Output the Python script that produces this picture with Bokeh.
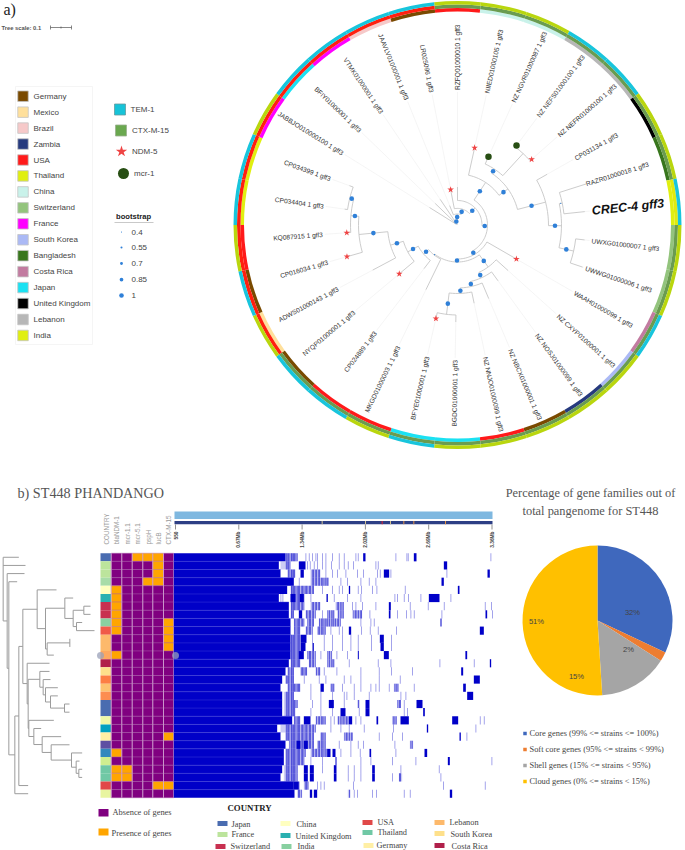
import math
from bokeh.plotting import figure
from bokeh.models import Range1d
from bokeh.core.properties import value
from bokeh.embed import file_html
from bokeh.resources import INLINE

# ---------- panel a: circular tree data ----------
leaf_names = ["RZFQ01000010 1 gff3","NIIED01000105 1 gff3","NZ NGVR01000087 1 gff3","NZ NEFS01000100 1 gff3",
 "NZ NEFR01000100 1 gff3","CP031134 1 gff3","RAZR01000018 1 gff3","CREC-4 gff3","UWXG01000007 1 gff3",
 "UWWG01000006 1 gff3","WAAH01000099 1 gff3","NZ CXYP01000001 1 gff3","NZ NOSJ01000099 1 gff3",
 "NZ NBCX01000001 1 gff3","NZ NNJO01000099 1 gff3","BGDC01000001 1 gff3","BFYE01000001 1 gff3",
 "MKGD01000003 1 1 gff3","CP024889 1 gff3","NYQP01000001 1 gff3","ADWS01000143 1 gff3","CP016034 1 gff3",
 "KQ087915 1 gff3","CP034404 1 gff3","CP034399 1 gff3","JABBJO010000100 1 gff3","BFIY01000001 1 gff3",
 "VTMK01000001 1 gff3","JAAVLV01000001 1 gff3","LR025096 1 gff3"]
leaf_theta = [0,12.5,24.4,36.6,48.5,60.5,72.3,84,96.7,108.6,120,132,144,157,168,181,193,206,217.5,230,242,254,266,278,290,302,314,326,338,349]
leaf_parent = ["V","N1","N3","N4","N4","N5","N7","N7","N8","N8","U","N12","N13","N14","N15","N16","N16","L1","M1","M2","M3","M4","M5","M6","M6","Z3","Z2","Z","Y","W"]
leaf_radius = [38,79,75,99,99,103,135,128,128,132,68,68,69,80,80,97,96,72,55,76,96,115,111,114,115,33,31,31,21,36]
leaf_mark = ["","star","mcr","mcr","star","","","","","","star","","","","","","star","","","star","","star","star","","","","","","","star"]

node_names = ["Z3","Z2","Z","Y","W","V","T","N1","N2","N3","N4","N5","N6","N7","N8","U","Q","N12","N13","N14","N15","N16","L1","M1","M2","M3","M4","M5","M6"]
node_parent = [None,"Z3","Z2","Z","Y","W","V","T","N1","N2","N3","N2","N5","N6","N6","T","U","Q","N12","N13","N14","N15","Q","L1","M1","M2","M3","M4","M5"]
node_radius = [1.5,2.5,5,11,16.6,24.5,30,51,62,67,97,91,104,107,119,34,37,52,58,63,68.5,90,38,44.6,56.5,70,99,107,111]
node_boot = [0,0,1,1,1,1,1,1,1,1,0,1,1,0.4,1,1,1,1,1,1,1,1,0.4,1,1,1,1,1,1]

ring_country = ["USA","China","China","Lebanon","Lebanon","United Kingdom","Bangladesh","India","Switzerland","Switzerland",
 "Costa Rica","South Korea","Zambia","Germany","USA","Japan","Japan","USA","USA","Germany","Mexico","Germany","USA",
 "Thailand","Thailand","France","Japan","France","Brazil","Germany"]
ring_middle = ["g"]*7+["l"]+["g"]*12+["r"]*10
ring_outer = ["l","l","l","c","c","l","l","c","l","l","c","l","l","l","l","l","c","l","c","c","l","c","l","c","c","l","c","c","c","c"]

country_names = ["Germany","Mexico","Brazil","Zambia","USA","Thailand","China","Switzerland","France","South Korea",
 "Bangladesh","Costa Rica","Japan","United Kingdom","Lebanon","India"]
country_colors = ["#7a4a00","#ffe09c","#f6c9c9","#263a7e","#ff1a1a","#e0ef10","#c9f2ea","#93c47d","#ff00ff","#abb9f5",
 "#38761d","#c27ba0","#1be1f2","#000000","#b7b7b7","#e0ef10"]
boot_values = [0.4,0.55,0.7,0.85,1]
boot_labels = ["0.4","0.55","0.7","0.85","1"]

# ---------- panel b: phandango data ----------
gene_columns = ["COUNTRY","blaNDM-1","mcr-1.1","mcr-5.1","pspH","lucB","CTX-M-15"]
row_colors = ["#4a6cb0","#bce49c","#bce49c","#a8dca8","#ffffc0","#2ab0b0","#c83050","#c83050","#88d0a0","#f05a48",
 "#fdb96b","#fdb96b","#fda860","#b0204a","#fee08b","#fd7e44","#fdc270","#fd8d50","#4a6cb0","#4a6cb0",
 "#eef7a8","#00a0c0","#ffefa5","#5e4fa2","#3288bd","#d0ee90","#70c8a5","#70c8a5","#e04848","#e8f5a0"]
present_blaNDM = [5,6,7,8,9,10,13,25,27,28]
present_mcr11 = [27,28]
present_mcr51 = [1]
present_pspH = [1,4]
present_lucB = [1,2,3,4,29]
present_ctx = [9,10,11,12,23,29]

gene_solid = [45,25,30,70,50,25,55,55,60,60,60,60,60,55,45,35,30,35,35,35,65,20,30,45,40,40,35,30,70,72]
gene_dense = [[(45,80)],[(30,60)],[(50,75),(120,150)],[(120,175)],[(60,130)],[(60,100)],[(60,100),(120,150),(195,220)],
 [(60,70),(105,135),(170,190),(200,220),(245,275)],[(70,100),(110,130),(145,210)],[(70,90),(105,125),(140,165)],
 [(60,88)],[(60,88)],[(60,85),(110,135),(170,185)],[(60,90),(115,135),(170,190)],[(50,70),(90,110),(135,150)],
 [(45,70)],[(50,90),(180,190),(370,385)],[(40,70)],[(40,80),(260,268),(380,390)],[(40,75)],
 [(70,90),(135,165),(200,235),(365,378)],[(30,135)],[(45,130),(150,165),(220,245)],[(55,130),(140,165),(418,428)],
 [(45,105),(120,170)],[(45,100)],[(40,80)],[(40,80),(385,395)],[(100,115)],[(80,95),(232,240)]]
dense_stripe_bins = [46,49,53,57,62,64,68,71,75,79,83,86,91,95,99,103,107,111,116,119,124,128,133,137,142,146,151,154,159,
 163,168,171,176,181,186,189,194,199,203,208,213,217,222,227,231,236,241,244,249,254,258,263,268,272,
 367,372,376,381,386,389,420,424]
gene_dark = [[(278,285),(430,438)],[(85,105),(520,530)],[(90,100),(340,356),(651,658)],[(513,520)],[(235,239),(562,567)],
 [(60,75),(88,100),(168,172),(475,507)],[(355,361)],[(85,95),(355,360),(645,650)],[(510,513)],[(235,242),(628,640)],
 [(90,108),(328,340)],[(90,105),(126,130),(330,340)],[(85,100),(262,265),(340,355),(585,590)],[(658,662)],[(572,578)],
 [(610,628)],[(150,160),(578,586)],[(590,608)],[(175,190),(285,297),(438,456)],[(210,225),(285,297),(458,463)],
 [(100,120),(235,245),(318,323),(390,415),(545,563)],[(469,473)],[(567,571)],[(78,90),(100,112)],[(170,180),(186,195),(297,302),(462,470)],
 [(195,198),(532,538)],[(100,112),(118,130),(190,198),(305,313)],[(100,112),(118,130),(190,198),(305,313)],[(70,85)],[(118,125),(130,140),(538,545)]]
gene_light = [[105,115,125,135,140,155,165,185,205,220,255,262,375,408,412,660],
 [110,118,130,140,155,165,182,205,220,232,248,315,322],
 [165,185,200,225,260,278,320,328,360,528],
 [85,210,230,270,295,315],
 [155,185,205,215,262,272,305,318,403],
 [30,36,120,190,230,270,372,380,400,413,450,540],
 [245,255,275,315,418,472,520,643,662],
 [155,297,380,407,420,430,513,665],
 [270,300,310],
 [180,205,215,272,298,322,377],
 [125,160,185,215,240,262,302,362],
 [160,185,215,240,262,302,362],
 [150,198,230,585],
 [235,322,360,507,610],
 [160,198,270,325,362,425],
 [100,145,165,220,240,270,325,388],
 [120,215,250,270,300,315,325,355,430],
 [120,150,185,220,228,250,295,390,405],
 [125,150,220,400],
 [120,150,185,265,400,410],
 [180,190,255,270,628,640],
 [180,210,235,280,368,615],
 [325,365,395,588],
 [205,240,262,278,372],
 [210,240,268,375],
 [120,155,270,300,365,435,663],
 [155,232,250,270,390,505],
 [232,250,270,365,510],
 [85,140,150,160,248,518,643],
 [250,260,305,317,400,418]]

axis_ticks = [0,190,380,570,760,950]  # pan-genome bins
axis_labels = ["550","0.67Mb","1.34Mb","2.02Mb","2.69Mb","3.36Mb"]
speck_bins = [335,285,155,360,400,430,525]
speck_cols = ["#e02030","#d0c090","#d0c090","#d0c090","#e09040","#e09040","#e09040"]

dend_nodes = ["root","A","B","C","D","E","F","G","H","I","J","K","L","N11","M","M2","O","P","Q","R","S","T","U","V","W","X","Y","Z"]
dend_parent = [None,"root","A","B","C","D","E","F","G","H","I","I","G","L","E","M","M2","O","P","Q","R","M2","T","U","V","W","X","Y"]
dend_x = [8,20,25,43,55,67,110,135,193,218,250,228,140,208,80,83,118,128,135,150,192,85,100,125,152,213,227,235]
tip_parent = ["root","root","A","B","F","H","J","J","K","K","N11","N11","L","M","O","P","Q","R","S","S","T","U","V","W","X","Y","Z","Z","D","C"]
tip_x = [55,75,72,50,168,218,270,270,245,282,208,208,160,147,147,150,172,172,207,207,160,122,182,207,245,237,245,245,83,83]

pie_values = [32,2,15,51]
pie_labels = ["32%","2%","15%","51%"]
pie_colors = ["#3f68bd","#ed7d31","#a5a5a5","#ffc000"]
pie_legend = ["Core genes (99% <= strains <= 100%)","Soft core genes (95% <= strains < 99%)",
 "Shell genes (15% <= strains < 95%)","Cloud genes (0% <= strains < 15%)"]

b_country = ["Japan","France","Switzerland","China","United Kingdom","India","USA","Thailand","Germany","Lebanon","South Korea","Costa Rica"]
b_colors = ["#4a6cb0","#bce49c","#c83050","#ffffc0","#2ab0b0","#88d0a0","#e04848","#70c8a5","#ffefa5","#fdb96b","#fee08b","#b0204a"]

# ---------- figure ----------
W, H = 685, 850
p = figure(width=W, height=H, x_range=Range1d(0, W), y_range=Range1d(0, H), output_backend="svg",
           toolbar_location=None, x_axis_type=None, y_axis_type=None, min_border=0)
p.grid.visible = False
p.outline_line_color = None

def Y(y):
    return H - y

def txt(x, y, s, size=8, font="Liberation Sans", color="#444444", align="left", angle=0, style="normal", base="middle"):
    p.text([x], [Y(y)], text=[s], text_font=value(font), text_font_size=f"{size}px", text_color=color,
           text_align=align, text_baseline=base, angle=[angle], angle_units="deg", text_font_style=style)

SERIF = "Liberation Serif"
# ----- ring -----
CX, CY, R = 457, 224.5, 224
cmap = dict(zip(country_names, country_colors))
mid_c = {"g": "#6a9c50", "r": "#ff2010", "l": "#dfea0e"}
out_c = {"l": "#b9d60e", "c": "#18c5dc"}
starts = [90 - 12 * i - 6 for i in range(30)]
ends = [90 - 12 * i + 6 for i in range(30)]
for rin, rout, cols in [(R - 10.5, R - 7, [cmap[c] for c in ring_country]),
                        (R - 7, R - 3.5, [mid_c[m] for m in ring_middle]),
                        (R - 3.5, R, [out_c[o] for o in ring_outer])]:
    p.annular_wedge([CX] * 30, [Y(CY)] * 30, rin, rout, starts, ends, start_angle_units="deg", end_angle_units="deg",
                    fill_color=cols, line_color=None)

def pol(theta, r):
    a = math.radians(theta)
    return CX + r * math.sin(a), Y(CY - r * math.cos(a))

# tree geometry from the parent lists
children = {n: [] for n in node_names}
for n, par in zip(node_names, node_parent):
    if par:
        children[par].append(("n", n))
for i, par in enumerate(leaf_parent):
    children[par].append(("l", i))
tree_t = [t - 360 if t > 295 else t for t in leaf_theta]
nrad = dict(zip(node_names, node_radius))
nth = {}
def theta_of(n):
    ts = []
    for kind, c in children[n]:
        ts.append(tree_t[c] if kind == "l" else theta_of(c))
    nth[n] = (min(ts) + max(ts)) / 2
    nth[n + "_span"] = (min(ts), max(ts))
    return nth[n]
theta_of("Z3")

xs, ys, fx, fy = [], [], [], []
for n, par in zip(node_names, node_parent):
    lo, hi = nth[n + "_span"]
    steps = max(2, int((hi - lo) / 3) + 2)
    pts = [pol(lo + (hi - lo) * k / (steps - 1), nrad[n]) for k in range(steps)]
    xs.append([q[0] for q in pts]); ys.append([q[1] for q in pts])
    r0 = nrad[par] if par else 0
    a, b = pol(nth[n], r0), pol(nth[n], nrad[n])
    xs.append([a[0], b[0]]); ys.append([a[1], b[1]])
for i, par in enumerate(leaf_parent):
    a, b = pol(tree_t[i], nrad[par]), pol(tree_t[i], leaf_radius[i])
    xs.append([a[0], b[0]]); ys.append([a[1], b[1]])
    c = pol(tree_t[i], 133)
    fx.append([b[0], c[0]]); fy.append([b[1], c[1]])
p.multi_line(fx, fy, line_color="#f0f0f0", line_width=0.7)
p.multi_line(xs, ys, line_color="#c6c6c6", line_width=0.9)

dx, dy, ds = [], [], []
for n, par, b in zip(node_names, node_parent, node_boot):
    if b > 0 and par:
        q = pol(nth[n], (nrad[par] + nrad[n]) / 2)
        dx.append(q[0]); dy.append(q[1]); ds.append((b - 0.4) / 0.6 * 3.4 + 1.2)
p.scatter(dx, dy, size=ds, marker="circle", fill_color="#2f80d8", line_color=None)
sx = [pol(tree_t[i], leaf_radius[i]) for i, m in enumerate(leaf_mark) if m == "star"]
p.scatter([q[0] for q in sx], [q[1] for q in sx], size=7, marker="star", fill_color="#ef4444", line_color=None)
gx = [pol(tree_t[i], leaf_radius[i]) for i, m in enumerate(leaf_mark) if m == "mcr"]
p.scatter([q[0] for q in gx], [q[1] for q in gx], size=6.5, marker="circle", fill_color="#274e13", line_color=None)

for i, name in enumerate(leaf_names):
    t = leaf_theta[i]
    x, y = pol(t, 135)
    right = t < 180
    ang = 90 - t if right else 270 - t
    if name.startswith("CREC"):
        p.text([x], [y], text=[name], text_font=value("Liberation Sans"), text_font_size="12.5px", text_color="#111111",
               text_font_style="bold italic", text_align="left", text_baseline="middle", angle=[ang], angle_units="deg")
    else:
        p.text([x], [y], text=[name], text_font=value("Liberation Sans"), text_font_size="6.6px", text_color="#333333",
               text_align="left" if right else "right", text_baseline="middle", angle=[ang], angle_units="deg")

# ----- panel a headers and legends -----
txt(3, 9, "a)", 16, SERIF, "#222222")
txt(1, 27, "Tree scale: 0.1", 5.8, color="#555555", style="bold")
p.multi_line([[50, 71], [50, 50], [60.5, 60.5], [71, 71]],
             [[Y(27), Y(27)], [Y(25), Y(29)], [Y(26), Y(28)], [Y(25), Y(29)]], line_color="#555555", line_width=0.7)
p.quad(left=[15], right=[92], top=[Y(86)], bottom=[Y(344)], fill_color=None, line_color="#f5f5f5")
ly = [95.7 + 15.95 * i for i in range(16)]
p.rect([22.5] * 16, [Y(v) for v in ly], 10.5, 10.5, fill_color=country_colors, line_color="#c4c4c4", line_width=0.8)
for v, n in zip(ly, country_names):
    txt(33, v, n, 8, color="#444444")
p.rect([119.5], [Y(109)], 11, 11, fill_color="#17c3d8", line_color="#669aa0", line_width=0.8)
txt(130, 109, "TEM-1", 8)
p.rect([120.5], [Y(130)], 11, 11, fill_color="#6aa84f", line_color="#9bb090", line_width=0.8)
txt(131.5, 130, "CTX-M-15", 8)
p.scatter([121], [Y(151)], size=12, marker="star", fill_color="#ef4444", line_color=None)
txt(131.5, 151, "NDM-5", 8)
p.scatter([123], [Y(173)], size=11, marker="circle", fill_color="#274e13", line_color=None)
txt(133.5, 173, "mcr-1", 8)
txt(115.5, 215.5, "bootstrap", 7.6, color="#222222", style="bold")
p.line([114, 153], [Y(222), Y(222)], line_color="#bbbbbb", line_width=0.8)
by = [231.5, 247, 263, 279, 295]
p.scatter([121] * 5, [Y(v) for v in by], size=[(b - 0.4) / 0.6 * 3.4 + 1.2 for b in boot_values], marker="circle",
          fill_color="#2f80d8", line_color=None)
for v, n in zip(by, boot_labels):
    txt(131, v, n, 8)

# ----- panel b -----
txt(17, 492, "b) ST448 PHANDANGO", 14.2, SERIF, "#555555")
TOP, RH = 552.7, 8.153
NR = 30
col_edges = [100, 110.7, 121.3, 131.7, 142.3, 152.3, 163, 173.3]
rt = [TOP + RH * k for k in range(NR)]
for i, g in enumerate(gene_columns):
    txt((col_edges[i] + col_edges[i + 1]) / 2 + 0.3, 544, g, 6.3, color="#9a9a9a", angle=90, base="middle")

p.quad(left=[100] * NR, right=[110.7] * NR, top=[Y(t) for t in rt], bottom=[Y(t + RH) for t in rt],
       fill_color=row_colors, line_color=None)
present = [present_blaNDM, present_mcr11, present_mcr51, present_pspH, present_lucB, present_ctx]
ql, qr, qt, qb, qc = [], [], [], [], []
for c, rows in enumerate(present):
    for k in range(NR):
        ql.append(col_edges[c + 1]); qr.append(col_edges[c + 2]); qt.append(Y(rt[k])); qb.append(Y(rt[k] + RH))
        qc.append("#ffa500" if (k + 1) in rows else "#800080")
p.quad(left=ql, right=qr, top=qt, bottom=qb, fill_color=qc, line_color="#a95fa9", line_width=0.4)
p.segment(col_edges[1:], [Y(TOP)] * 7, col_edges[1:], [Y(TOP + RH * NR)] * 7, line_color="#dcb6dc", line_width=0.7)

def bx(b):
    return 270 + b / 3
BLUE = "#0000c8"
sol_right = [bx(s) for s in gene_solid]
p.quad(left=[173.3] * NR, right=sol_right, top=[Y(t) for t in rt], bottom=[Y(t + RH) for t in rt], fill_color=BLUE, line_color=None)
def stripes(rowlists, alpha):
    l, r, t, b = [], [], [], []
    for k, items in enumerate(rowlists):
        for it in items:
            s, e = (it, it + 2.4) if not isinstance(it, tuple) else it
            l.append(bx(s)); r.append(bx(e)); t.append(Y(rt[k])); b.append(Y(rt[k] + RH))
    p.quad(left=l, right=r, top=t, bottom=b, fill_color=BLUE, fill_alpha=alpha, line_color=None)
stripes(gene_dense, 0.2)
stripes([[b for b in dense_stripe_bins if any(s <= b < e for s, e in row)] for row in gene_dense], 0.7)
stripes(gene_light, 0.45)
stripes(gene_dark, 1)
p.segment([173.3] * (NR - 1), [Y(t) for t in rt[1:]], sol_right[1:], [Y(t) for t in rt[1:]], line_color="#3a3ad8", line_width=0.5)
p.scatter([100, 175], [Y(655)] * 2, size=7, marker="circle", fill_color="#9aa0b8", fill_alpha=0.75, line_color=None)

# top bars and axis
p.quad(left=[174], right=[492], top=[Y(511)], bottom=[Y(518.5)], fill_color="#7fb8e0", line_color=None)
p.quad(left=[174], right=[492], top=[Y(520.5)], bottom=[Y(523.8)], fill_color="#2d3f85", line_color=None)
p.segment([bx(b) for b in speck_bins], [Y(520.5)] * 7, [bx(b) for b in speck_bins], [Y(523.8)] * 7, line_color=speck_cols, line_width=1)
tick_px = [175 + 63.3 * (t / 190) for t in axis_ticks]
p.segment(tick_px, [Y(524)] * 6, tick_px, [Y(529)] * 6, line_color="#444444", line_width=0.6)
for x, s in zip(tick_px, axis_labels):
    txt(x, 531, s, 4.8, color="#444444", angle=90, align="right", style="bold")

# dendrogram
dkids = {n: [] for n in dend_nodes}
for n, par in zip(dend_nodes, dend_parent):
    if par:
        dkids[par].append(("n", n))
for k, par in enumerate(tip_parent):
    dkids[par].append(("l", k))
dxv = dict(zip(dend_nodes, dend_x))
def row_y(k):
    return rt[k] + RH / 2
seg = []
def dend(n):
    yy = []
    for kind, c in dkids[n]:
        if kind == "l":
            y = row_y(c); seg.append(([dxv[n] / 3, tip_x[c] / 3], [Y(y), Y(y)]))
        else:
            y = dend(c); seg.append(([dxv[n] / 3, dxv[c] / 3], [Y(y), Y(y)]))
        yy.append(y)
    seg.append(([dxv[n] / 3, dxv[n] / 3], [Y(min(yy)), Y(max(yy))]))
    return (min(yy) + max(yy)) / 2
dend("root")
p.multi_line([s[0] for s in seg], [s[1] for s in seg], line_color="#9c9c9c", line_width=1)

# legends below matrix
p.quad(left=[98], right=[108], top=[Y(808.5)], bottom=[Y(816)], fill_color="#800080", line_color=None)
txt(112, 812, "Absence of genes", 8.4, SERIF, "#444444")
p.quad(left=[98], right=[108], top=[Y(828)], bottom=[Y(835)], fill_color="#ffa500", line_color=None)
txt(111, 833, "Presence of genes", 8.4, SERIF, "#444444")
txt(227, 807.5, "COUNTRY", 8.8, SERIF, "#222222", style="bold")
leg_sx = [217, 217, 215, 280, 280, 281, 362, 362, 363, 434, 434, 434]
leg_sy = [823, 834, 846, 823, 835, 846, 822, 832, 845, 822, 833, 845]
leg_tx = [231, 231, 230, 296, 295, 297, 377, 377, 376, 449, 450, 451]
leg_ty = [823.5, 834, 845.5, 824, 835.5, 845.5, 822, 832, 845, 822, 834, 845.5]
p.rect([x + 5 for x in leg_sx], [Y(v) for v in leg_sy], 10, 5, fill_color=b_colors, line_color=None)
for x, v, n in zip(leg_tx, leg_ty, b_country):
    txt(x, v, n, 8.3, SERIF, "#444444")

# ----- pie -----
txt(590, 492, "Percentage of gene families out of", 12.4, SERIF, "#555555", align="center")
txt(590, 510, "total pangenome for ST448", 12.4, SERIF, "#555555", align="center")
PX, PY, PR = 597, 620, 75
tot = sum(pie_values)
acc = 0
for v, c in zip(pie_values, pie_colors):
    a0 = 90 - acc / tot * 360
    a1 = 90 - (acc + v) / tot * 360
    p.wedge([PX], [Y(PY)], PR, a1, a0, start_angle_units="deg", end_angle_units="deg", fill_color=c, line_color=None)
    acc += v
for x, y, s in zip([632, 628, 576, 536], [612, 649, 676, 621], pie_labels):
    txt(x, y, s, 7.6, color="#444444", align="center")
for y, c, s in zip([733, 749, 765, 781], pie_colors, pie_legend):
    p.rect([524.5], [Y(y)], 3.5, 3.5, fill_color=c, line_color=None)
    txt(529, y, s, 8.4, SERIF, "#444444")

open("out.html", "w").write(file_html(p, INLINE))
